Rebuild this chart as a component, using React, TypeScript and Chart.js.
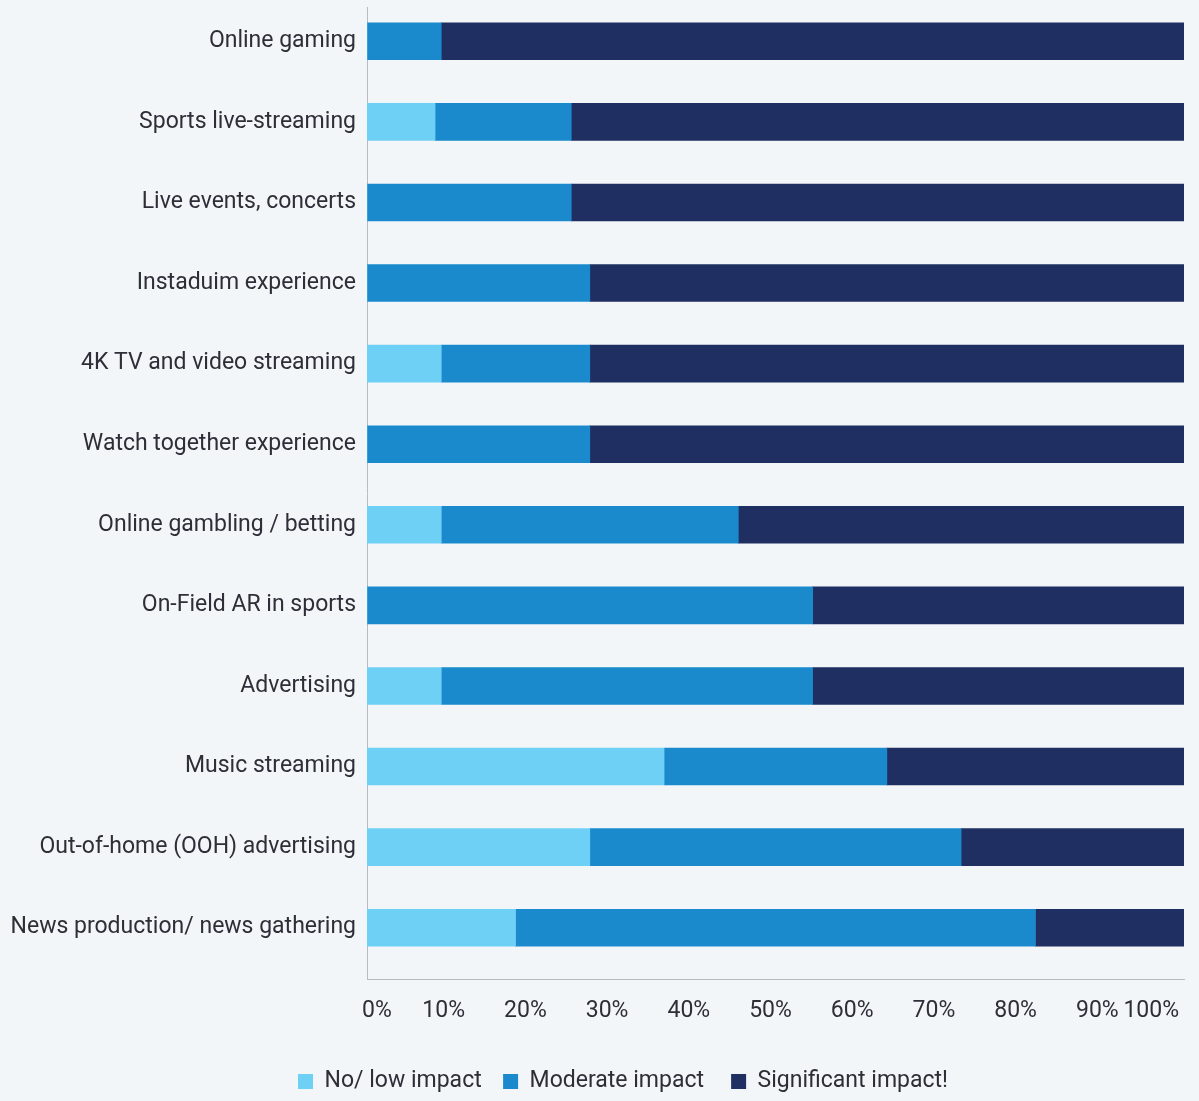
import React, { useEffect, useRef } from "react";
import { Chart, registerables } from "chart.js";

Chart.register(...registerables);

const categories = [
  "Online gaming",
  "Sports live-streaming",
  "Live events, concerts",
  "Instaduim experience",
  "4K TV and video streaming",
  "Watch together experience",
  "Online gambling / betting",
  "On-Field AR in sports",
  "Advertising",
  "Music streaming",
  "Out-of-home (OOH) advertising",
  "News production/ news gathering",
];

const noLowImpact = [0, 8.33, 0, 0, 9.09, 0, 9.09, 0, 9.09, 36.36, 27.27, 18.18];
const moderateImpact = [9.09, 16.67, 25, 27.27, 18.18, 27.27, 36.36, 54.55, 45.45, 27.27, 45.45, 63.64];
const significantImpact = [90.91, 75, 75, 72.73, 72.73, 72.73, 54.55, 45.45, 45.45, 36.36, 27.27, 18.18];

const seriesNames = ["No/ low impact", "Moderate impact", "Significant impact!"];
const legendSpacers = ["  ", "   ", ""];
const xTicks = [0, 10, 20, 30, 40, 50, 60, 70, 80, 90, 100];

const COLORS = ["#6fd0f6", "#1a8acd", "#1f2f61"];
const TEXT = "#2e2e38";
const BG = "#f3f6f8";
const AXIS = "#b8bcc2";
const FONT = "Roboto";

// Extends the axis lines slightly beyond the band area and nudges the legend, as in the source chart.
const axisExtentPlugin = {
  id: "axisExtent",
  afterLayout(chart: any) {
    const { x, y } = chart.scales;
    const area = chart.chartArea;
    y.top = area.top + 6;
    y.bottom = area.bottom + 11;
    x.top = area.bottom + 11;
    const lg = chart.legend;
    if (lg) {
      lg.left += 31;
      lg.right += 31;
      lg.top += 2;
      lg.bottom += 2;
    }
  },
};

export default function App() {
  const ref = useRef<HTMLCanvasElement | null>(null);

  useEffect(() => {
    document.body.style.margin = "0";
    document.body.style.background = BG;
    if (!ref.current) return;
    const chart = new Chart(ref.current, {
      type: "bar",
      data: {
        labels: categories,
        datasets: [noLowImpact, moderateImpact, significantImpact].map((d, i) => ({
          label: seriesNames[i],
          data: d,
          backgroundColor: COLORS[i],
          borderWidth: 0,
          barThickness: 37,
        })),
      },
      plugins: [axisExtentPlugin],
      options: {
        indexAxis: "y",
        animation: false,
        responsive: false,
        maintainAspectRatio: false,
        layout: { padding: { top: 1, right: 15, bottom: 0, left: 0 } },
        plugins: {
          tooltip: { enabled: false },
          legend: {
            position: "bottom",
            labels: {
              boxWidth: 15,
              boxHeight: 15,
              padding: 10,
              color: TEXT,
              font: { family: FONT, size: 23 },
              generateLabels: (c: any) => {
                const items = Chart.defaults.plugins.legend.labels.generateLabels(c);
                return items.map((it: any, i: number) => ({
                  ...it,
                  text: it.text + (legendSpacers[i] || ""),
                }));
              },
            },
          },
        },
        scales: {
          x: {
            stacked: true,
            min: 0,
            max: 100,
            afterBuildTicks: (scale: any) => {
              scale.ticks = xTicks.map((v) => ({ value: v }));
            },
            afterFit: (scale: any) => {
              scale.height = 90;
              scale.paddingLeft = 0;
              scale.paddingRight = 0;
            },
            grid: { display: false, drawTicks: false },
            border: { display: true, color: AXIS, width: 1 },
            ticks: {
              align: "inner",
              labelOffset: -5,
              padding: 18,
              color: TEXT,
              font: { family: FONT, size: 23 },
              callback: (v: any) => v + "%",
            },
          },
          y: {
            stacked: true,
            afterFit: (scale: any) => {
              scale.width = 367;
              scale.paddingTop = 0;
              scale.paddingBottom = 0;
            },
            grid: { display: false, drawTicks: false },
            border: { display: true, color: AXIS, width: 1 },
            ticks: {
              padding: 11,
              color: TEXT,
              font: { family: FONT, size: 23 },
            },
          },
        },
      },
    });
    return () => chart.destroy();
  }, []);

  return (
    <div style={{ width: 1199, height: 1101, background: BG }}>
      <canvas ref={ref} width={1199} height={1101} style={{ display: "block" }} />
    </div>
  );
}
